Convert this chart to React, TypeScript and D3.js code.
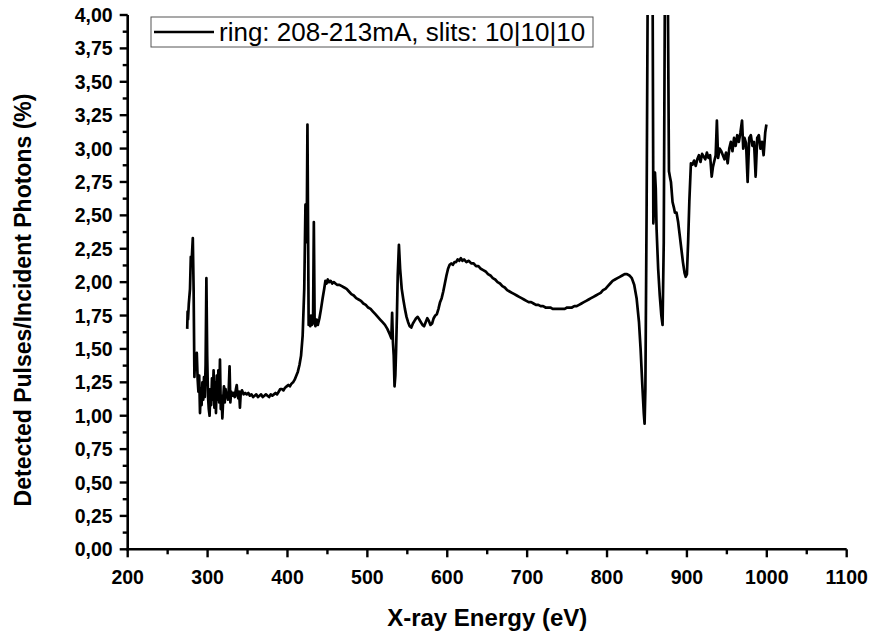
import React from "react";
import * as d3 from "d3";

const energy: number[] = [
  274.5, 275, 275.5, 276.5, 278, 279, 280, 281.5, 282.5, 283.5, 284.5, 285.5, 286.5, 287.5, 288.5, 289.5,
  290.5, 291.5, 292.5, 293.5, 294.5, 295.5, 296.5, 297.5, 298.5, 299.5, 300.5, 301.5, 302.5, 303.5, 304.5,
  305.5, 306.5, 307.5, 308.5, 309.5, 310.5, 311.5, 312.5, 313.5, 314.5, 315.5, 316.5, 317.5, 318.5, 319.5,
  320.5, 321.5, 322.5, 323.5, 324.5, 325.5, 326.5, 327.5, 328.5, 329.5, 331, 332.5, 334, 335.5, 336.5,
  337.5, 338.5, 339.5, 340.5, 341.5, 343, 345, 347, 349, 351, 353, 355, 357, 359, 361, 363, 365, 367, 369,
  371, 373, 375, 377, 379, 381, 383, 385, 387, 389, 391, 393, 395, 397, 399, 401, 403, 405, 407, 409, 411,
  413, 415, 417, 419, 421, 422.5, 424, 425, 426.5, 427.5, 428.5, 429.5, 430.5, 432, 433, 434, 435, 436.5,
  438, 440, 442, 444, 446, 447.5, 449, 450.5, 452, 454, 456, 458, 460, 462, 465, 468, 471, 474, 477, 480,
  483, 486, 489, 492, 495, 498, 501, 504, 507, 510, 513, 516, 519, 522, 525, 528, 530, 531, 532, 533, 534,
  535, 536, 537, 538, 539.5, 541, 543, 545, 547, 549, 551, 553, 555, 557, 559, 561, 563, 565, 567, 569, 571,
  573, 575, 577, 579, 581, 583, 585, 587, 589, 591, 593, 595, 597, 599, 601, 603, 605, 607, 609, 611, 613,
  615, 617, 619, 621, 624, 627, 630, 633, 636, 639, 642, 645, 648, 651, 654, 657, 660, 663, 666, 669, 672,
  675, 678, 681, 684, 687, 690, 693, 696, 699, 702, 705, 708, 711, 714, 717, 720, 723, 726, 729, 732, 735,
  738, 741, 744, 747, 750, 753, 756, 759, 762, 765, 768, 771, 774, 777, 780, 783, 786, 789, 792, 795, 798,
  801, 804, 807, 810, 813, 816, 819, 822, 825, 828, 831, 834, 837, 840, 842, 844, 846, 847, 848, 849.5, 851,
  853, 855, 857, 858, 859, 860, 861, 862, 864, 866, 868, 869.5, 871, 872.5, 874, 876, 877.5, 879, 880, 882,
  884, 885, 887, 889, 891, 893, 895, 897, 898.5, 900, 901.5, 903, 905, 907, 909, 911, 913, 915, 917, 919,
  921, 923, 925, 927, 929, 931, 932.5, 934, 936, 937.5, 939, 941, 943, 945, 947, 949, 951, 953, 955, 957,
  959, 961, 963, 965, 967, 969, 970.5, 972, 974, 976, 978, 980, 982, 984, 986, 988, 990, 992, 994, 996, 998,
  999.5,
];

const ratio: number[] = [
  1.65, 1.78, 1.72, 1.84, 1.95, 2.19, 2.15, 2.33, 1.95, 1.29, 1.45, 1.35, 1.47, 1.28, 1.18, 1.3,
  1.02, 1.2, 1.08, 1.25, 1.12, 1.29, 1.14, 1.38, 2.03, 1.45, 1.15, 1.05, 1.0, 1.2, 1.08,
  1.28, 1.12, 1.34, 1.06, 1.25, 1.02, 1.3, 1.12, 1.34, 1.1, 1.42, 1.05, 1.15, 0.98, 1.12,
  1.22, 1.1, 1.2, 1.14, 1.17, 1.12, 1.2, 1.37, 1.1, 1.18, 1.15, 1.17, 1.14, 1.2, 1.23,
  1.15, 1.13, 1.18, 1.06, 1.17, 1.19, 1.16, 1.17, 1.16, 1.17, 1.15, 1.16, 1.14, 1.15, 1.16, 1.14, 1.15, 1.16, 1.14,
  1.15, 1.16, 1.15, 1.14, 1.16, 1.15, 1.16, 1.17, 1.16, 1.18, 1.2, 1.2, 1.19, 1.21, 1.22, 1.23, 1.22, 1.24, 1.25, 1.27, 1.3,
  1.33, 1.38, 1.45, 1.6, 1.95, 2.58, 2.3, 3.18, 1.68, 1.73, 1.67, 1.75, 1.68, 1.7, 2.45, 1.7, 1.67, 1.72,
  1.68, 1.73, 1.8, 1.88, 1.95, 2.01, 1.99, 2.02, 2.0, 2.01, 1.99, 2.0, 1.99, 1.98, 1.98, 1.97, 1.96, 1.95, 1.93, 1.91,
  1.9, 1.88, 1.87, 1.86, 1.84, 1.83, 1.81, 1.8, 1.78, 1.76, 1.74, 1.72, 1.7, 1.68, 1.65, 1.61, 1.58, 1.77, 1.55, 1.45, 1.22,
  1.3, 1.5, 1.75, 2.05, 2.28, 2.1, 1.95, 1.87, 1.8, 1.74, 1.7, 1.67, 1.66, 1.69, 1.71, 1.73, 1.74, 1.72, 1.7, 1.68, 1.67,
  1.7, 1.73, 1.71, 1.68, 1.69, 1.73, 1.75, 1.76, 1.8, 1.85, 1.88, 1.93, 1.99, 2.05, 2.1, 2.13, 2.14, 2.13, 2.15, 2.15, 2.17,
  2.16, 2.18, 2.16, 2.17, 2.15, 2.16, 2.14, 2.14, 2.12, 2.12, 2.1, 2.09, 2.08, 2.06, 2.05, 2.03, 2.02, 2.0, 1.99, 1.97, 1.96,
  1.94, 1.93, 1.92, 1.91, 1.9, 1.89, 1.88, 1.87, 1.86, 1.85, 1.85, 1.84, 1.83, 1.83, 1.82, 1.82, 1.81, 1.81, 1.81, 1.8, 1.8,
  1.8, 1.8, 1.8, 1.8, 1.81, 1.81, 1.81, 1.82, 1.82, 1.83, 1.84, 1.85, 1.86, 1.87, 1.88, 1.89, 1.9, 1.91, 1.92, 1.94, 1.95,
  1.97, 1.99, 2.01, 2.02, 2.03, 2.04, 2.05, 2.06, 2.06, 2.05, 2.03, 1.98, 1.88, 1.7, 1.5, 1.25, 1.02, 0.94, 1.2, 2.5, 4.3,
  5.0, 5.0, 4.3, 2.44, 2.6, 2.82, 2.7, 2.4, 2.1, 1.9, 1.75, 1.68, 2.3, 4.3, 5.0, 4.3, 2.83, 2.78, 2.75, 2.6,
  2.55, 2.52, 2.52, 2.45, 2.35, 2.25, 2.15, 2.07, 2.04, 2.06, 2.3, 2.6, 2.89, 2.88, 2.91, 2.87, 2.92, 2.95, 2.9, 2.96,
  2.94, 2.92, 2.97, 2.93, 2.95, 2.79, 2.86, 2.9, 2.95, 3.21, 2.93, 3.0, 2.98, 2.95, 2.92, 2.97, 2.89, 3.0, 3.05, 2.98,
  3.08, 3.02, 3.1, 3.05, 3.12, 3.21, 3.0, 3.08, 3.04, 2.75, 3.08, 3.1, 3.02, 3.05, 2.79, 3.08, 3.1, 3.0, 3.05, 2.95, 3.12,
  3.18,
];

const xTickValues: number[] = [200, 300, 400, 500, 600, 700, 800, 900, 1000, 1100];
const yTickValues: number[] = [0, 0.25, 0.5, 0.75, 1, 1.25, 1.5, 1.75, 2, 2.25, 2.5, 2.75, 3, 3.25, 3.5, 3.75, 4];
const seriesLabel = "ring: 208-213mA, slits: 10|10|10";
const xTitle = "X-ray Energy (eV)";
const yTitle = "Detected Pulses/Incident Photons (%)";

const W = 872;
const H = 634;
const left = 127.7;
const right = 846.7;
const top = 15;
const bottom = 549.3;

export default function App() {
  const x = d3.scaleLinear().domain([200, 1100]).range([left, right]);
  const y = d3.scaleLinear().domain([0, 4]).range([bottom, top]);
  const pts = energy.map((e, i) => [e, ratio[i]] as [number, number]);
  const line = d3
    .line<[number, number]>()
    .x((d) => x(d[0]))
    .y((d) => y(d[1]));
  const xMinor = d3.range(250, 1100, 100);
  const yMinor = d3.range(0.125, 4, 0.25);
  const fmt = (v: number) => v.toFixed(2).replace(".", ",");
  const font = "'Liberation Sans', Arial, sans-serif";
  return (
    <svg
      width={W}
      height={H}
      style={{ position: "absolute", left: 0, top: 0, background: "#fff" }}
      fontFamily={font}
    >
      <defs>
        <clipPath id="plotclip">
          <rect x={left} y={top} width={right - left} height={bottom - top} />
        </clipPath>
      </defs>
      <path
        d={line(pts) || ""}
        fill="none"
        stroke="#000"
        strokeWidth={2.7}
        strokeLinejoin="round"
        clipPath="url(#plotclip)"
      />
      {/* Y axis */}
      <line x1={left} x2={left} y1={top} y2={bottom + 1.3} stroke="#000" strokeWidth={2.6} />
      {yTickValues.map((v) => (
        <g key={"y" + v}>
          <line x1={left - 8} x2={left} y1={y(v)} y2={y(v)} stroke="#000" strokeWidth={2.4} />
          <text x={left - 15} y={y(v)} dy="0.36em" textAnchor="end" fontSize={19.5} fontWeight="bold">
            {fmt(v)}
          </text>
        </g>
      ))}
      {yMinor.map((v) => (
        <line key={"ym" + v} x1={left - 5} x2={left} y1={y(v)} y2={y(v)} stroke="#000" strokeWidth={2.4} />
      ))}
      {/* X axis */}
      <line x1={left - 1.3} x2={right} y1={bottom} y2={bottom} stroke="#000" strokeWidth={2.6} />
      {xTickValues.map((v) => (
        <g key={"x" + v}>
          <line x1={x(v)} x2={x(v)} y1={bottom} y2={bottom + 8} stroke="#000" strokeWidth={2.4} />
          <text x={x(v)} y={bottom + 35} textAnchor="middle" fontSize={19.5} fontWeight="bold">
            {v}
          </text>
        </g>
      ))}
      {xMinor.map((v) => (
        <line key={"xm" + v} x1={x(v)} x2={x(v)} y1={bottom} y2={bottom + 5} stroke="#000" strokeWidth={2.4} />
      ))}
      <text x={(left + right) / 2} y={626} textAnchor="middle" fontSize={24} fontWeight="bold">
        {xTitle}
      </text>
      <text
        transform={`translate(31, 300) rotate(-90)`}
        textAnchor="middle"
        fontSize={23}
        fontWeight="bold"
      >
        {yTitle}
      </text>
      {/* Legend */}
      <rect x={151} y={17} width={442} height={30} fill="#fff" stroke="#555" strokeWidth={1} />
      <line x1={154} x2={214} y1={32} y2={32} stroke="#000" strokeWidth={2.6} />
      <text x={219} y={41} fontSize={26}>
        {seriesLabel}
      </text>
    </svg>
  );
}
